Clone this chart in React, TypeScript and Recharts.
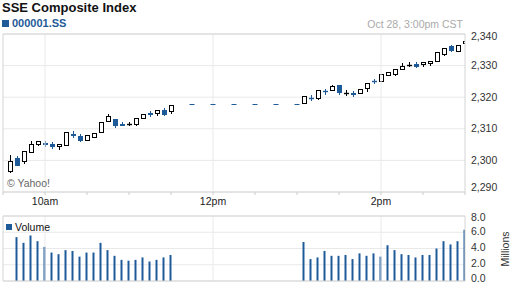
import React from 'react';
import { ComposedChart, Bar, Scatter, XAxis, YAxis, CartesianGrid, ReferenceLine } from 'recharts';

// 5-minute bars, Oct 28 (bar end times)
const times = [
  '09:35', '09:40', '09:45', '09:50', '09:55', '10:00', '10:05', '10:10', '10:15', '10:20', '10:25', '10:30',
  '10:35', '10:40', '10:45', '10:50', '10:55', '11:00', '11:05', '11:10', '11:15', '11:20', '11:25', '11:30',
  '13:05', '13:10', '13:15', '13:20', '13:25', '13:30', '13:35', '13:40', '13:45', '13:50', '13:55', '14:00',
  '14:05', '14:10', '14:15', '14:20', '14:25', '14:30', '14:35', '14:40', '14:45', '14:50', '14:55', '15:00',
];

const opens = [
  2296.5, 2300.7, 2299.7, 2302.7, 2305.2, 2305.4, 2305.3, 2304.6, 2305.0, 2308.2, 2307.8, 2306.5,
  2307.4, 2308.9, 2312.6, 2313.2, 2311.5, 2311.5, 2311.6, 2313.4, 2314.9, 2315.0, 2316.0, 2315.7,
  2318.2, 2319.8, 2319.7, 2322.1, 2322.2, 2323.9, 2321.3, 2321.2, 2321.3, 2322.9, 2325.1, 2325.0,
  2327.1, 2327.3, 2328.9, 2330.2, 2330.5, 2330.5, 2330.8, 2331.5, 2333.8, 2336.1, 2334.7, 2337.0,
];
const highs = [
  2301.8, 2301.5, 2302.9, 2306.0, 2306.0, 2306.2, 2305.8, 2305.3, 2308.9, 2309.2, 2308.4, 2308.1,
  2308.7, 2312.3, 2314.7, 2313.2, 2312.3, 2312.2, 2313.4, 2314.8, 2315.5, 2315.9, 2316.6, 2317.6,
  2320.3, 2320.6, 2322.4, 2322.6, 2323.9, 2323.9, 2322.2, 2322.0, 2322.6, 2324.5, 2325.8, 2327.4,
  2328.1, 2329.0, 2330.8, 2331.1, 2331.0, 2331.1, 2331.5, 2334.3, 2335.6, 2336.6, 2336.6, 2338.0,
];
const lows = [
  2296.0, 2298.3, 2298.9, 2302.5, 2304.4, 2304.2, 2303.6, 2303.4, 2304.4, 2307.1, 2305.7, 2306.0,
  2307.0, 2308.9, 2312.6, 2310.3, 2311.1, 2310.8, 2310.8, 2313.1, 2313.8, 2314.2, 2314.2, 2314.7,
  2317.8, 2318.7, 2319.0, 2320.8, 2322.2, 2320.8, 2320.3, 2320.2, 2321.3, 2321.8, 2324.3, 2325.0,
  2326.6, 2326.6, 2328.5, 2329.4, 2329.2, 2329.7, 2330.0, 2331.0, 2333.1, 2334.2, 2334.2, 2336.1,
];
const closes = [
  2299.7, 2298.6, 2302.9, 2305.3, 2306.0, 2305.3, 2304.4, 2305.3, 2308.9, 2308.1, 2306.5, 2308.1,
  2308.7, 2312.3, 2314.2, 2311.1, 2311.2, 2311.5, 2313.4, 2314.8, 2314.8, 2315.9, 2314.7, 2317.6,
  2320.3, 2319.7, 2322.4, 2322.0, 2323.4, 2321.6, 2321.3, 2321.1, 2322.6, 2324.5, 2325.0, 2327.4,
  2328.1, 2329.0, 2329.9, 2330.2, 2330.0, 2331.1, 2331.5, 2334.3, 2335.6, 2334.8, 2336.6, 2337.7,
];
// millions of shares
const volumes = [
  null, 5.4, 4.7, 5.6, 4.9, 4.2, 3.5, 3.3, 3.8, 3.7, 3.0, 3.5,
  3.5, 4.7, 3.8, 3.1, 2.6, 2.5, 2.6, 2.9, 2.4, 2.6, 2.9, 3.2,
  4.8, 2.7, 2.9, 3.7, 3.1, 3.1, 3.2, 2.7, 3.4, 3.1, 3.4, 3.0,
  4.4, 3.8, 3.3, 3.2, 2.9, 3.2, 3.2, 4.0, 4.9, 4.5, 4.9, 6.3,
];

// lunch break, flat at last price
const lunchTimes = ['11:45', '12:00', '12:15', '12:30', '12:45', '13:00'];
const lunchPrices = [2317.8, 2317.8, 2317.8, 2317.8, 2317.8, 2317.8];

const priceTicks = [2290, 2300, 2310, 2320, 2330, 2340];
const volumeTicks = [0, 2, 4, 6, 8];
const timeTicks = ['09:30', '10:00', '10:30', '11:00', '11:30', '12:00', '12:30', '13:00', '13:30', '14:00', '14:30', '15:00'];
const timeLabels: Record<string, string> = { '10:00': '10am', '12:00': '12pm', '14:00': '2pm' };

const BLUE = '#1f5a98';
const FRAME = '#d4d4d4';
const GRID = '#e9e9e9';
const FONT = "'Liberation Sans', Arial, sans-serif";

const toMin = (s: string) => {
  const [h, m] = s.split(':').map(Number);
  return h * 60 + m;
};
const minLabel = (m: number) => {
  const key = `${String(Math.floor(m / 60)).padStart(2, '0')}:${String(m % 60).padStart(2, '0')}`;
  return timeLabels[key] || '';
};

const candleData = times.map((t, i) => ({
  t: toMin(t),
  o: opens[i],
  h: highs[i],
  l: lows[i],
  c: closes[i],
  range: [lows[i], highs[i]],
}));
const volumeData = times.map((t, i) => ({ t: toMin(t), v: volumes[i] }));
const lunchData = lunchTimes.map((t, i) => ({ t: toMin(t), p: lunchPrices[i] }));
const xTicks = timeTicks.map(toMin);
const xDomain = [toMin('09:30'), toMin('15:00')];

function Candle(props: any) {
  const { x, y, width, height, payload } = props;
  const { o, h, l, c } = payload;
  const k = h > l ? height / (h - l) : 0;
  const yOf = (v: number) => y + (h - v) * k;
  const down = c < o;
  const color = down ? BLUE : '#000';
  const cx = Math.floor(x + width / 2) + 0.5;
  const top = Math.round(yOf(Math.max(o, c))) + 0.5;
  const bot = Math.round(yOf(Math.min(o, c))) + 0.5;
  return (
    <g>
      <line x1={cx} x2={cx} y1={Math.round(y)} y2={Math.round(y + height)} stroke={color} strokeWidth={1} />
      {bot - top < 1 ? (
        <line x1={cx - 2.5} x2={cx + 2.5} y1={top} y2={top} stroke={color} strokeWidth={1.4} />
      ) : (
        <rect x={cx - 2} y={top} width={4} height={bot - top} fill={down ? BLUE : '#fff'} stroke={color} strokeWidth={1} />
      )}
    </g>
  );
}

function Dash(props: any) {
  const { cx, cy } = props;
  const yy = Math.round(cy) + 0.5;
  return <line x1={cx - 2.5} x2={cx + 2.5} y1={yy} y2={yy} stroke={BLUE} strokeWidth={1} />;
}

function PriceTick(props: any) {
  const { x, y, payload } = props;
  const shift = payload.value === 2290 ? -5 : payload.value === 2340 ? 2 : 0;
  return (
    <text x={x} y={y + shift} dy="0.35em" textAnchor="start" fontSize={10.5} fill="#333" fontFamily={FONT}>
      {payload.value.toLocaleString('en-US')}
    </text>
  );
}

function VolumeTick(props: any) {
  const { x, y, payload } = props;
  const shift = payload.value === 0 ? -3 : payload.value === 8 ? 1 : -1;
  return (
    <text x={x} y={y + shift} dy="0.35em" textAnchor="start" fontSize={10.5} fill="#333" fontFamily={FONT}>
      {payload.value.toFixed(1)}
    </text>
  );
}

export default function App() {
  return (
    <div style={{ position: 'absolute', left: 0, top: 0, width: 512, height: 288, background: '#fff', fontFamily: FONT, overflow: 'hidden' }}>
      <div style={{ position: 'absolute', left: 2, top: 0, fontSize: 13, fontWeight: 'bold', color: '#111' }}>SSE Composite Index</div>
      <div style={{ position: 'absolute', left: 2, top: 17, display: 'flex', alignItems: 'center' }}>
        <div style={{ width: 7, height: 7, background: BLUE, marginRight: 3 }} />
        <span style={{ fontSize: 11, fontWeight: 'bold', color: BLUE }}>000001.SS</span>
      </div>
      <div style={{ position: 'absolute', right: 49, top: 18, fontSize: 10.5, color: '#aaa' }}>Oct 28, 3:00pm CST</div>

      <div style={{ position: 'absolute', left: 0, top: 0 }}>
        <ComposedChart width={512} height={215} data={candleData} margin={{ top: 34, right: 0, bottom: 0, left: 3 }}>
          <CartesianGrid vertical={false} stroke={GRID} />
          <XAxis
            dataKey="t"
            type="number"
            domain={xDomain}
            ticks={xTicks}
            interval={0}
            allowDataOverflow
            height={23}
            axisLine={false}
            tickSize={3}
            tickMargin={3}
            tickLine={{ stroke: '#ccc' }}
            tickFormatter={minLabel}
            tick={{ fontSize: 10.5, fill: '#222', fontFamily: FONT }}
          />
          <YAxis
            orientation="right"
            width={47}
            domain={[2290, 2340]}
            ticks={priceTicks}
            interval={0}
            allowDataOverflow
            axisLine={false}
            tickLine={false}
            tickSize={0}
            tickMargin={6}
            tick={<PriceTick />}
          />
          {['10:00', '12:00', '14:00'].map((t) => (
            <ReferenceLine key={t} x={toMin(t)} stroke={GRID} />
          ))}
          <ReferenceLine x={xDomain[0]} stroke={FRAME} />
          <ReferenceLine x={xDomain[1]} stroke={FRAME} />
          <ReferenceLine y={2290} stroke={FRAME} />
          <ReferenceLine y={2340} stroke={FRAME} />
          <Bar dataKey="range" barSize={5} shape={<Candle />} isAnimationActive={false} />
          <Scatter data={lunchData} dataKey="p" shape={<Dash />} isAnimationActive={false} />
        </ComposedChart>
      </div>
      <div style={{ position: 'absolute', left: 7, top: 177, fontSize: 10.5, color: '#666' }}>© Yahoo!</div>

      <div style={{ position: 'absolute', left: 0, top: 210 }}>
        <ComposedChart width={512} height={78} data={volumeData} margin={{ top: 6, right: 0, bottom: 3, left: 3 }}>
          <CartesianGrid vertical={false} stroke={GRID} />
          <XAxis
            dataKey="t"
            type="number"
            domain={xDomain}
            ticks={xTicks}
            interval={0}
            allowDataOverflow
            height={4}
            axisLine={false}
            tickSize={3}
            tickLine={{ stroke: '#ddd' }}
            tick={false}
          />
          <YAxis
            orientation="right"
            width={47}
            domain={[0, 8]}
            ticks={volumeTicks}
            interval={0}
            allowDataOverflow
            axisLine={false}
            tickLine={false}
            tickSize={0}
            tickMargin={6}
            tick={<VolumeTick />}
          />
          {['10:00', '12:00', '14:00'].map((t) => (
            <ReferenceLine key={t} x={toMin(t)} stroke={GRID} />
          ))}
          <ReferenceLine x={xDomain[0]} stroke={FRAME} />
          <ReferenceLine x={xDomain[1]} stroke={FRAME} />
          <ReferenceLine y={0} stroke={FRAME} />
          <ReferenceLine y={8} stroke={FRAME} />
          <Bar dataKey="v" barSize={2} fill={BLUE} isAnimationActive={false} />
        </ComposedChart>
      </div>
      <div style={{ position: 'absolute', left: 6, top: 221, display: 'flex', alignItems: 'center' }}>
        <div style={{ width: 6, height: 6, background: BLUE, marginRight: 3 }} />
        <span style={{ fontSize: 10.5, color: '#111' }}>Volume</span>
      </div>
      <div
        style={{
          position: 'absolute',
          left: 505,
          top: 249,
          transform: 'translate(-50%, -50%) rotate(-90deg)',
          fontSize: 10.5,
          color: '#333',
          whiteSpace: 'nowrap',
        }}
      >
        Millions
      </div>
    </div>
  );
}
